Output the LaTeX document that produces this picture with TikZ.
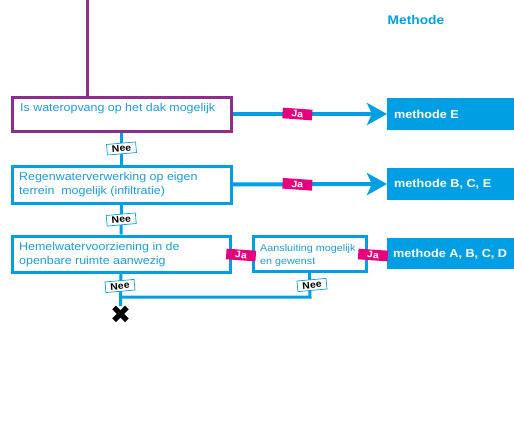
\documentclass[tikz,border=0pt]{standalone}
\usepackage{fontspec}
\setmainfont{Liberation Sans}[FakeStretch=1.1]
\newfontfamily\symfont{DejaVu Sans}
\usetikzlibrary{arrows.meta}
\definecolor{lblue}{HTML}{009FE3}
\definecolor{tblue}{HTML}{1D9BDB}
\definecolor{purp}{HTML}{8E2D8C}
\definecolor{mag}{HTML}{E5007D}
\begin{document}
\begin{tikzpicture}[x=1pt,y=-1pt,
  qbox/.style={draw=lblue, line width=3pt, inner sep=0pt},
  qtext/.style={anchor=west, align=left, text=tblue, inner sep=0pt, font=\fontsize{11.3}{14}\selectfont},
  meth/.style={fill=lblue, text=white, inner sep=0pt, minimum width=127, minimum height=32},
  methtext/.style={anchor=west, text=white, inner sep=0pt, font=\bfseries\fontsize{11.5}{12}\selectfont},
  jalab/.style={fill=mag, text=white, font=\bfseries\fontsize{9.5}{10}\selectfont, rotate=-4, inner xsep=9pt, inner ysep=2pt},
  neelab/.style={fill=white, draw=lblue, line width=0.7pt, text=black, font=\bfseries\fontsize{9.5}{10}\selectfont, rotate=5, inner xsep=5pt, inner ysep=2pt},
  flow/.style={draw=lblue, line width=4pt},
  vflow/.style={draw=lblue, line width=3pt},
  arr/.style={flow, -{Stealth[length=20pt, width=22pt, inset=5pt]}}
]
\useasboundingbox (0,0) rectangle (514,439);

% title
\node (title) [text=lblue, font=\bfseries\fontsize{12.5}{13}\selectfont] at (416,20) {Methode};

% question boxes
\node (q1) [qbox, draw=purp, minimum width=219, minimum height=34] at (121.5,114) {};
\node (q2) [qbox, minimum width=219, minimum height=37] at (121.5,184.5) {};
\node (q3) [qbox, minimum width=218, minimum height=36] at (121,254) {};
\node (q4) [qbox, minimum width=113, minimum height=35] at (309.5,253.5) {};

\node (t1) [qtext] at (20,109) {Is wateropvang op het dak mogelijk};
\node (t2) [qtext] at (19,185) {Regenwaterverwerking op eigen\\terrein\ \ mogelijk (infiltratie)};
\node (t3) [qtext] at (19,255) {Hemelwatervoorziening in de\\openbare ruimte aanwezig};
\node (t4) [qtext, font=\fontsize{9.8}{13}\selectfont] at (260,255) {Aansluiting mogelijk\\en gewenst};

% method boxes
\node (m1) [meth, anchor=west] at (387,114) {};
\node (m2) [meth, anchor=west] at (387,184) {};
\node (m3) [meth, anchor=west, minimum height=31] at (387,253.5) {};
\node (mt1) [methtext] at (394,114) {methode E};
\node (mt2) [methtext] at (394,184) {methode B, C, E};
\node (mt3) [methtext] at (393,254) {methode A, B, C, D};

% purple input line
\coordinate (top) at (87,0);
\draw [draw=purp, line width=3pt] (top) -- (87,97);

% Ja arrows
\draw [arr] (q1.east) -- (m1.west) node (ja1) [jalab, pos=0.42] {Ja};
\draw [arr] (q2.east) -- (m2.west) node (ja2) [jalab, pos=0.42] {Ja};
\draw [flow] (q3.east) -- (q4.west);
\node (ja3) [jalab] at (241,255) {Ja};
\draw [flow] (q4.east) -- (m3.west);
\node (ja4) [jalab] at (373,255) {Ja};

% Nee lines
\node (xm) [text=black, inner sep=0pt, font=\symfont\fontsize{25}{25}\selectfont] at (120.5,315) {✖};
\coordinate (join) at (121,297);
\coordinate (corner) at (310,297);
\draw [vflow] (q1.south) -- (q2.north) node (nee1) [neelab, midway] {Nee};
\draw [vflow] (q2.south) -- (q3.north) node (nee2) [neelab, midway] {Nee};
\draw [vflow] (q3.south) -- (xm.north);
\node (nee3) [neelab] at (120,286) {Nee};
\draw [vflow, line join=miter] (q4.south) -- (corner) -- (join);
\node (nee4) [neelab] at (312,285) {Nee};
\end{tikzpicture}
\end{document}
